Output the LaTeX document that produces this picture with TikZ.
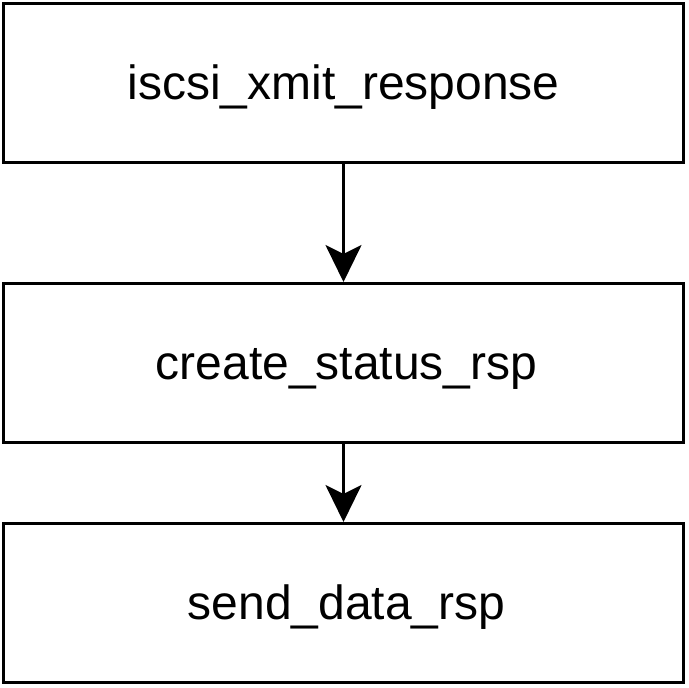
\documentclass[tikz,border=0pt]{standalone}
\usepackage{fontspec}
\setmainfont{Liberation Sans}
\usetikzlibrary{arrows.meta}
\begin{document}
\begin{tikzpicture}[x=1pt,y=-1pt,
  fbox/.style={draw=black,line width=3pt,minimum width=680pt,minimum height=159pt,inner sep=0pt,text height=40pt,text depth=8pt,font=\fontsize{48}{56}\selectfont,anchor=north west},
  conn/.style={line width=3pt,-{Stealth[length=37pt,width=36pt,inset=9pt]}}]
\useasboundingbox (0,0) rectangle (688,688);
\node[fbox] (a) at (2,2) {iscsi\_xmit\_response};
\node[fbox] (b) at (2,282) {\hspace{6pt}create\_status\_rsp};
\node[fbox] (c) at (2,522) {\hspace{6pt}send\_data\_rsp};
\draw[conn] (a.south) -- (b.north);
\draw[conn] (b.south) -- (c.north);
\end{tikzpicture}
\end{document}
